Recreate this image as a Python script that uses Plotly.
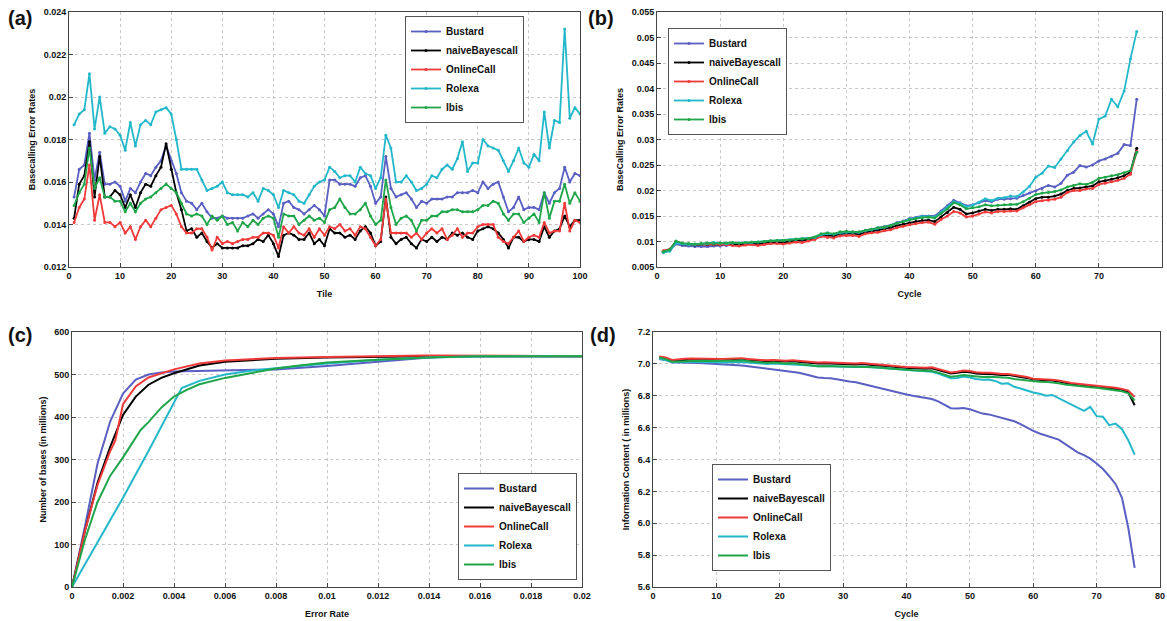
import plotly.graph_objects as go

# ---------------- data ----------------
series_names = ["Bustard", "naiveBayescall", "OnlineCall", "Rolexa", "Ibis"]
series_colors = ["#5a5fc2", "#000000", "#f03a3a", "#22b8c9", "#1fa64a"]

tiles = list(range(1, 101))
a_bustard = [0.0153, 0.0166, 0.0168, 0.0183, 0.0161, 0.0174, 0.0159, 0.0159, 0.0160, 0.0158,
             0.0151, 0.0157, 0.0155, 0.0160, 0.0164, 0.0163, 0.0167, 0.0170, 0.0177, 0.0170,
             0.0164, 0.0155, 0.0151, 0.0150, 0.0147, 0.0150, 0.0146, 0.0143, 0.0143, 0.0144,
             0.0143, 0.0143, 0.0143, 0.0143, 0.0144, 0.0145, 0.0143, 0.0145, 0.0147, 0.0145,
             0.0139, 0.0150, 0.0151, 0.0148, 0.0147, 0.0145, 0.0147, 0.0149, 0.0147, 0.0144,
             0.0161, 0.0161, 0.0159, 0.0159, 0.0159, 0.0158, 0.0162, 0.0163, 0.0158, 0.0150,
             0.0153, 0.0172, 0.0157, 0.0153, 0.0154, 0.0155, 0.0152, 0.0148, 0.0151, 0.0150,
             0.0152, 0.0152, 0.0152, 0.0153, 0.0153, 0.0155, 0.0155, 0.0155, 0.0156, 0.0155,
             0.0160, 0.0157, 0.0159, 0.0160, 0.0153, 0.0146, 0.0148, 0.0153, 0.0147, 0.0148,
             0.0148, 0.0147, 0.0155, 0.0150, 0.0155, 0.0157, 0.0167, 0.0160, 0.0164, 0.0163]
a_naive = [0.0143, 0.0159, 0.0163, 0.0179, 0.0153, 0.0172, 0.0153, 0.0153, 0.0156, 0.0154,
           0.0148, 0.0154, 0.0148, 0.0155, 0.0159, 0.0158, 0.0163, 0.0167, 0.0178, 0.0166,
           0.0155, 0.0147, 0.0137, 0.0138, 0.0134, 0.0136, 0.0132, 0.0129, 0.0131, 0.0129,
           0.0129, 0.0129, 0.0129, 0.0130, 0.0130, 0.0131, 0.0133, 0.0132, 0.0135, 0.0131,
           0.0125, 0.0135, 0.0136, 0.0135, 0.0133, 0.0133, 0.0136, 0.0131, 0.0133, 0.0130,
           0.0138, 0.0136, 0.0136, 0.0134, 0.0135, 0.0133, 0.0137, 0.0139, 0.0136, 0.0130,
           0.0132, 0.0153, 0.0134, 0.0131, 0.0133, 0.0134, 0.0131, 0.0129, 0.0133, 0.0132,
           0.0134, 0.0132, 0.0134, 0.0133, 0.0136, 0.0135, 0.0136, 0.0134, 0.0133, 0.0137,
           0.0138, 0.0139, 0.0138, 0.0136, 0.0133, 0.0129, 0.0134, 0.0134, 0.0132, 0.0133,
           0.0133, 0.0132, 0.0139, 0.0134, 0.0137, 0.0138, 0.0144, 0.0139, 0.0142, 0.0142]
a_online = [0.0141, 0.0148, 0.0152, 0.0168, 0.0142, 0.0154, 0.0141, 0.0141, 0.0139, 0.0141,
            0.0136, 0.0139, 0.0133, 0.0139, 0.0142, 0.0139, 0.0143, 0.0147, 0.0148, 0.0149,
            0.0145, 0.0139, 0.0136, 0.0136, 0.0138, 0.0138, 0.0134, 0.0128, 0.0134, 0.0131,
            0.0132, 0.0131, 0.0132, 0.0133, 0.0133, 0.0134, 0.0134, 0.0136, 0.0136, 0.0135,
            0.0129, 0.0139, 0.0136, 0.0139, 0.0136, 0.0135, 0.0138, 0.0134, 0.0138, 0.0135,
            0.0139, 0.0138, 0.0140, 0.0137, 0.0138, 0.0135, 0.0139, 0.0138, 0.0134, 0.0130,
            0.0133, 0.0152, 0.0136, 0.0136, 0.0136, 0.0136, 0.0134, 0.0136, 0.0133, 0.0136,
            0.0138, 0.0136, 0.0138, 0.0133, 0.0135, 0.0138, 0.0134, 0.0136, 0.0136, 0.0139,
            0.0140, 0.0140, 0.0140, 0.0134, 0.0132, 0.0131, 0.0134, 0.0137, 0.0132, 0.0134,
            0.0135, 0.0134, 0.0141, 0.0136, 0.0137, 0.0137, 0.0150, 0.0137, 0.0142, 0.0141]
a_rolexa = [0.0187, 0.0192, 0.0194, 0.0211, 0.0185, 0.0200, 0.0183, 0.0186, 0.0185, 0.0182,
            0.0175, 0.0188, 0.0177, 0.0187, 0.0189, 0.0187, 0.0193, 0.0194, 0.0195, 0.0192,
            0.0180, 0.0166, 0.0166, 0.0166, 0.0166, 0.0161, 0.0156, 0.0157, 0.0158, 0.0160,
            0.0155, 0.0154, 0.0154, 0.0154, 0.0153, 0.0155, 0.0151, 0.0157, 0.0156, 0.0154,
            0.0148, 0.0156, 0.0155, 0.0154, 0.0151, 0.0150, 0.0154, 0.0158, 0.0160, 0.0161,
            0.0167, 0.0165, 0.0162, 0.0163, 0.0163, 0.0160, 0.0167, 0.0164, 0.0163, 0.0157,
            0.0162, 0.0182, 0.0176, 0.0160, 0.0160, 0.0163, 0.0160, 0.0156, 0.0157, 0.0159,
            0.0163, 0.0162, 0.0166, 0.0168, 0.0166, 0.0171, 0.0179, 0.0165, 0.0169, 0.0169,
            0.0180, 0.0177, 0.0176, 0.0175, 0.0170, 0.0165, 0.0170, 0.0176, 0.0169, 0.0167,
            0.0173, 0.0170, 0.0193, 0.0176, 0.0189, 0.0188, 0.0232, 0.0190, 0.0195, 0.0192]
a_ibis = [0.0149, 0.0155, 0.0159, 0.0176, 0.0157, 0.0162, 0.0153, 0.0153, 0.0151, 0.0151,
          0.0146, 0.0150, 0.0146, 0.0150, 0.0152, 0.0153, 0.0155, 0.0157, 0.0159, 0.0157,
          0.0155, 0.0150, 0.0145, 0.0144, 0.0145, 0.0144, 0.0140, 0.0144, 0.0142, 0.0144,
          0.0140, 0.0141, 0.0137, 0.0141, 0.0139, 0.0142, 0.0140, 0.0143, 0.0144, 0.0143,
          0.0134, 0.0145, 0.0144, 0.0144, 0.0140, 0.0142, 0.0144, 0.0142, 0.0143, 0.0141,
          0.0147, 0.0148, 0.0152, 0.0148, 0.0145, 0.0145, 0.0147, 0.0150, 0.0144, 0.0140,
          0.0142, 0.0161, 0.0148, 0.0140, 0.0143, 0.0144, 0.0142, 0.0137, 0.0142, 0.0142,
          0.0144, 0.0144, 0.0146, 0.0146, 0.0147, 0.0147, 0.0146, 0.0146, 0.0146, 0.0147,
          0.0149, 0.0149, 0.0151, 0.0150, 0.0145, 0.0142, 0.0145, 0.0145, 0.0141, 0.0143,
          0.0145, 0.0141, 0.0155, 0.0143, 0.0151, 0.0151, 0.0159, 0.0150, 0.0155, 0.0151]

cycles = list(range(1, 77))
b_bustard = [0.0079, 0.0082, 0.0095, 0.0092, 0.0091, 0.0090, 0.0090, 0.0090, 0.0091, 0.0091,
             0.0092, 0.0093, 0.0094, 0.0095, 0.0096, 0.0097, 0.0098, 0.0100, 0.0100, 0.0101,
             0.0102, 0.0104, 0.0105, 0.0106, 0.0108, 0.0113, 0.0115, 0.0114, 0.0118, 0.0119,
             0.0119, 0.0118, 0.0122, 0.0124, 0.0127, 0.0129, 0.0132, 0.0137, 0.0140, 0.0145,
             0.0147, 0.0150, 0.0150, 0.0150, 0.0160, 0.0170, 0.0181, 0.0176, 0.0170, 0.0172,
             0.0176, 0.0180, 0.0178, 0.0183, 0.0183, 0.0184, 0.0185, 0.0190, 0.0195, 0.0199,
             0.0204, 0.0210, 0.0207, 0.0214, 0.0230, 0.0236, 0.0249, 0.0246, 0.0250, 0.0258,
             0.0262, 0.0267, 0.0273, 0.0290, 0.0288, 0.0379]
b_naive = [0.0081, 0.0083, 0.0100, 0.0095, 0.0094, 0.0093, 0.0094, 0.0094, 0.0095, 0.0095,
           0.0095, 0.0095, 0.0094, 0.0095, 0.0096, 0.0095, 0.0097, 0.0099, 0.0098, 0.0098,
           0.0100, 0.0102, 0.0102, 0.0104, 0.0106, 0.0112, 0.0112, 0.0111, 0.0115, 0.0116,
           0.0116, 0.0114, 0.0118, 0.0120, 0.0122, 0.0124, 0.0127, 0.0131, 0.0134, 0.0137,
           0.0139, 0.0141, 0.0142, 0.0139, 0.0148, 0.0157, 0.0167, 0.0163, 0.0154, 0.0156,
           0.0160, 0.0163, 0.0161, 0.0163, 0.0163, 0.0164, 0.0163, 0.0170, 0.0177, 0.0184,
           0.0187, 0.0187, 0.0189, 0.0193, 0.0200, 0.0204, 0.0205, 0.0207, 0.0209, 0.0217,
           0.0219, 0.0222, 0.0225, 0.0229, 0.0236, 0.0283]
b_online = [0.0082, 0.0085, 0.0099, 0.0096, 0.0095, 0.0094, 0.0095, 0.0095, 0.0095, 0.0094,
            0.0094, 0.0092, 0.0091, 0.0093, 0.0094, 0.0092, 0.0094, 0.0096, 0.0096, 0.0095,
            0.0097, 0.0099, 0.0098, 0.0101, 0.0104, 0.0110, 0.0108, 0.0107, 0.0111, 0.0112,
            0.0112, 0.0110, 0.0115, 0.0117, 0.0118, 0.0121, 0.0123, 0.0127, 0.0130, 0.0133,
            0.0135, 0.0137, 0.0138, 0.0134, 0.0143, 0.0150, 0.0159, 0.0156, 0.0148, 0.0150,
            0.0154, 0.0158, 0.0156, 0.0159, 0.0159, 0.0160, 0.0160, 0.0166, 0.0172, 0.0178,
            0.0180, 0.0181, 0.0183, 0.0187, 0.0196, 0.0200, 0.0200, 0.0203, 0.0204, 0.0212,
            0.0214, 0.0217, 0.0220, 0.0224, 0.0232, 0.0277]
b_rolexa = [0.0078, 0.0081, 0.0097, 0.0095, 0.0094, 0.0094, 0.0095, 0.0096, 0.0098, 0.0097,
            0.0096, 0.0097, 0.0097, 0.0098, 0.0098, 0.0099, 0.0100, 0.0101, 0.0101, 0.0102,
            0.0103, 0.0104, 0.0105, 0.0106, 0.0108, 0.0113, 0.0115, 0.0114, 0.0117, 0.0118,
            0.0118, 0.0118, 0.0121, 0.0123, 0.0126, 0.0128, 0.0131, 0.0136, 0.0139, 0.0144,
            0.0146, 0.0149, 0.0149, 0.0148, 0.0157, 0.0167, 0.0178, 0.0175, 0.0168, 0.0171,
            0.0177, 0.0184, 0.0180, 0.0185, 0.0186, 0.0189, 0.0188, 0.0197, 0.0208, 0.0226,
            0.0234, 0.0248, 0.0245, 0.0262, 0.0278, 0.0295, 0.0308, 0.0316, 0.0291, 0.0340,
            0.0346, 0.0379, 0.0364, 0.0395, 0.0458, 0.0512]
b_ibis = [0.0080, 0.0084, 0.0101, 0.0097, 0.0096, 0.0095, 0.0096, 0.0097, 0.0096, 0.0097,
          0.0097, 0.0098, 0.0097, 0.0098, 0.0099, 0.0099, 0.0100, 0.0102, 0.0102, 0.0102,
          0.0103, 0.0105, 0.0106, 0.0106, 0.0109, 0.0115, 0.0117, 0.0115, 0.0119, 0.0120,
          0.0119, 0.0119, 0.0122, 0.0124, 0.0127, 0.0128, 0.0131, 0.0136, 0.0139, 0.0143,
          0.0145, 0.0147, 0.0148, 0.0146, 0.0155, 0.0164, 0.0176, 0.0172, 0.0164, 0.0166,
          0.0168, 0.0172, 0.0170, 0.0171, 0.0172, 0.0173, 0.0173, 0.0178, 0.0185, 0.0192,
          0.0195, 0.0196, 0.0198, 0.0201, 0.0207, 0.0210, 0.0213, 0.0212, 0.0216, 0.0224,
          0.0226, 0.0229, 0.0231, 0.0235, 0.0239, 0.0275]

c_bustard_x = [0, 0.0005, 0.001, 0.0015, 0.002, 0.0025, 0.003, 0.0035, 0.004, 0.006, 0.008, 0.010, 0.012, 0.014, 0.015, 0.020]
c_bustard_y = [0, 140, 290, 390, 455, 488, 500, 505, 507, 509, 512, 520, 530, 540, 543, 543]
c_naive_x = [0, 0.0005, 0.001, 0.0015, 0.002, 0.0025, 0.003, 0.0035, 0.004, 0.005, 0.006, 0.008, 0.010, 0.012, 0.014, 0.020]
c_naive_y = [0, 130, 245, 330, 405, 448, 476, 492, 503, 521, 530, 537, 540, 542, 543, 543]
c_online_x = [0, 0.0005, 0.001, 0.0015, 0.0017, 0.002, 0.0025, 0.003, 0.004, 0.005, 0.006, 0.008, 0.010, 0.012, 0.0138, 0.020]
c_online_y = [0, 130, 240, 320, 345, 430, 472, 493, 512, 526, 533, 539, 541, 543, 545, 543]
c_rolexa_x = [0, 0.001, 0.002, 0.003, 0.0043, 0.005, 0.006, 0.007, 0.008, 0.010, 0.012, 0.014, 0.016, 0.020]
c_rolexa_y = [0, 105, 210, 320, 468, 485, 500, 509, 515, 526, 535, 540, 543, 543]
c_ibis_x = [0, 0.0005, 0.001, 0.0015, 0.002, 0.0025, 0.0027, 0.003, 0.0035, 0.004, 0.0045, 0.005, 0.006, 0.007, 0.008, 0.009, 0.010, 0.012, 0.014, 0.016, 0.020]
c_ibis_y = [0, 110, 200, 262, 305, 350, 370, 388, 422, 448, 464, 477, 492, 503, 514, 522, 528, 535, 540, 543, 543]

d_bustard = [7.030, 7.025, 7.010, 7.010, 7.008, 7.008, 7.006, 7.004, 7.002, 7.000,
             6.998, 6.995, 6.992, 6.990, 6.985, 6.980, 6.976, 6.972, 6.968, 6.963,
             6.956, 6.950, 6.944, 6.935, 6.927, 6.915, 6.912, 6.910, 6.903, 6.895,
             6.890, 6.885, 6.875, 6.865, 6.855, 6.845, 6.835, 6.825, 6.815, 6.808,
             6.800, 6.793, 6.787, 6.780, 6.765, 6.745, 6.722, 6.720, 6.723, 6.715,
             6.700, 6.688, 6.683, 6.672, 6.662, 6.652, 6.640, 6.622, 6.600, 6.580,
             6.563, 6.550, 6.540, 6.525, 6.498, 6.472, 6.445, 6.428, 6.405, 6.375,
             6.340, 6.295, 6.245, 6.160, 5.970, 5.720]
d_naive = [7.042, 7.036, 7.020, 7.024, 7.027, 7.028, 7.027, 7.028, 7.025, 7.025,
           7.025, 7.027, 7.028, 7.030, 7.025, 7.023, 7.020, 7.017, 7.020, 7.017,
           7.015, 7.017, 7.013, 7.010, 7.007, 7.002, 7.004, 7.002, 6.999, 6.997,
           6.999, 6.996, 6.999, 6.994, 6.992, 6.989, 6.984, 6.980, 6.977, 6.974,
           6.972, 6.970, 6.970, 6.972, 6.962, 6.952, 6.940, 6.944, 6.951, 6.948,
           6.940, 6.937, 6.938, 6.934, 6.930, 6.931, 6.926, 6.920, 6.912, 6.902,
           6.900, 6.900, 6.896, 6.890, 6.880, 6.874, 6.870, 6.866, 6.862, 6.858,
           6.852, 6.848, 6.843, 6.835, 6.822, 6.740]
d_online = [7.046, 7.040, 7.025, 7.030, 7.032, 7.033, 7.032, 7.033, 7.030, 7.030,
            7.030, 7.032, 7.033, 7.036, 7.030, 7.028, 7.025, 7.022, 7.025, 7.022,
            7.020, 7.022, 7.018, 7.015, 7.012, 7.008, 7.010, 7.008, 7.005, 7.003,
            7.005, 7.002, 7.005, 7.000, 6.998, 6.995, 6.990, 6.986, 6.983, 6.980,
            6.978, 6.976, 6.976, 6.978, 6.968, 6.958, 6.946, 6.950, 6.958, 6.955,
            6.947, 6.944, 6.945, 6.941, 6.936, 6.937, 6.932, 6.926, 6.918, 6.907,
            6.905, 6.905, 6.901, 6.895, 6.886, 6.880, 6.876, 6.872, 6.868, 6.864,
            6.858, 6.855, 6.850, 6.843, 6.832, 6.792]
d_rolexa = [7.030, 7.024, 7.010, 7.012, 7.012, 7.012, 7.011, 7.012, 7.010, 7.010,
            7.009, 7.010, 7.010, 7.012, 7.008, 7.005, 7.003, 7.000, 7.002, 7.000,
            6.998, 6.999, 6.995, 6.993, 6.990, 6.985, 6.987, 6.986, 6.984, 6.982,
            6.984, 6.981, 6.983, 6.980, 6.979, 6.976, 6.972, 6.968, 6.964, 6.960,
            6.958, 6.955, 6.955, 6.951, 6.940, 6.925, 6.910, 6.912, 6.920, 6.915,
            6.905, 6.900, 6.902, 6.893, 6.876, 6.878, 6.856, 6.845, 6.832, 6.820,
            6.812, 6.800, 6.805, 6.785, 6.760, 6.740, 6.720, 6.705, 6.730, 6.672,
            6.668, 6.615, 6.625, 6.590, 6.520, 6.430]
d_ibis = [7.040, 7.030, 7.013, 7.015, 7.018, 7.019, 7.018, 7.020, 7.018, 7.020,
          7.019, 7.020, 7.020, 7.022, 7.016, 7.013, 7.010, 7.005, 7.008, 7.005,
          7.003, 7.004, 7.000, 6.996, 6.992, 6.985, 6.987, 6.986, 6.985, 6.984,
          6.986, 6.982, 6.984, 6.980, 6.979, 6.976, 6.972, 6.968, 6.965, 6.962,
          6.960, 6.958, 6.958, 6.955, 6.945, 6.932, 6.920, 6.924, 6.930, 6.926,
          6.920, 6.918, 6.920, 6.917, 6.914, 6.913, 6.905, 6.900, 6.896, 6.890,
          6.888, 6.887, 6.885, 6.879, 6.870, 6.865, 6.860, 6.857, 6.853, 6.850,
          6.845, 6.842, 6.836, 6.828, 6.815, 6.770]

a_values = [a_bustard, a_naive, a_online, a_rolexa, a_ibis]
b_values = [b_bustard, b_naive, b_online, b_rolexa, b_ibis]
c_xvalues = [c_bustard_x, c_naive_x, c_online_x, c_rolexa_x, c_ibis_x]
c_yvalues = [c_bustard_y, c_naive_y, c_online_y, c_rolexa_y, c_ibis_y]
d_values = [d_bustard, d_naive, d_online, d_rolexa, d_ibis]

# ---------------- figure ----------------
W, H = 1167, 621
FONT = "Liberation Sans, Arial, sans-serif"
fig = go.Figure()

for i, name in enumerate(series_names):
    col = series_colors[i]
    fig.add_trace(go.Scatter(x=tiles, y=a_values[i], name=name, mode="lines+markers",
                             line=dict(color=col, width=1.8), marker=dict(color=col, size=3),
                             xaxis="x", yaxis="y", legend="legend"))
for i, name in enumerate(series_names):
    col = series_colors[i]
    fig.add_trace(go.Scatter(x=cycles, y=b_values[i], name=name, mode="lines+markers",
                             line=dict(color=col, width=1.8), marker=dict(color=col, size=3),
                             xaxis="x2", yaxis="y2", legend="legend2"))
for i, name in enumerate(series_names):
    col = series_colors[i]
    fig.add_trace(go.Scatter(x=c_xvalues[i], y=c_yvalues[i], name=name, mode="lines",
                             line=dict(color=col, width=2),
                             xaxis="x3", yaxis="y3", legend="legend3"))
for i, name in enumerate(series_names):
    col = series_colors[i]
    fig.add_trace(go.Scatter(x=cycles, y=d_values[i], name=name, mode="lines",
                             line=dict(color=col, width=2),
                             xaxis="x4", yaxis="y4", legend="legend4"))


def px_x(p):
    return p / W


def px_y(p):
    return 1 - p / H


tickfont = dict(family=FONT, size=9, color="#111", weight="bold")
titlefont = dict(family=FONT, size=9, color="#111", weight="bold")


def axis(domain, rng, dtick, title, anchor, standoff, fmt=None):
    d = dict(domain=domain, range=rng, dtick=dtick, tick0=rng[0], anchor=anchor,
             automargin=False,
             showgrid=True, gridcolor="#c8c8c8", griddash="dot", gridwidth=1,
             showline=True, linecolor="#444", linewidth=1, mirror=True,
             ticks="inside", ticklen=4, tickcolor="#444", zeroline=False,
             tickfont=tickfont, title=dict(text=title, font=titlefont, standoff=standoff))
    if fmt:
        d["tickformat"] = fmt
    return d


ax_a = [px_x(69), px_x(580)]
ax_b = [px_x(657), px_x(1162)]
ax_c = [px_x(72), px_x(582)]
ax_d = [px_x(653), px_x(1160)]
ay_top = [px_y(267), px_y(12)]
ay_bot = [px_y(587), px_y(332)]

legend_common = dict(bgcolor="white", bordercolor="#555", borderwidth=1,
                     font=dict(family=FONT, size=10, color="#111", weight="bold"),
                     tracegroupgap=0, itemwidth=30)

fig.update_layout(
    width=W, height=H, margin=dict(l=0, r=0, t=0, b=0, autoexpand=False),
    paper_bgcolor="white", plot_bgcolor="white",
    xaxis=axis(ax_a, [0, 100], 10, "Tile", "y", 10),
    yaxis=axis(ay_top, [0.012, 0.024], 0.002, "Basecalling Error Rates", "x", 6),
    xaxis2=axis(ax_b, [0, 80], 10, "Cycle", "y2", 10),
    yaxis2=axis(ay_top, [0.005, 0.055], 0.005, "BaseCalling Error Rates", "x2", 6),
    xaxis3=axis(ax_c, [0, 0.02], 0.002, "Error Rate", "y3", 10),
    yaxis3=axis(ay_bot, [0, 600], 100, "Number of bases (in millions)", "x3", 6),
    xaxis4=axis(ax_d, [0, 80], 10, "Cycle", "y4", 10),
    yaxis4=axis(ay_bot, [5.6, 7.2], 0.2, "Information Content ( in millions)", "x4", 6, ".1f"),
    legend=dict(x=px_x(524), y=px_y(16), xanchor="right", yanchor="top", **legend_common),
    legend2=dict(x=px_x(668), y=px_y(28), xanchor="left", yanchor="top", **legend_common),
    legend3=dict(x=px_x(577), y=px_y(580), xanchor="right", yanchor="bottom", **legend_common),
    legend4=dict(x=px_x(712), y=px_y(464), xanchor="left", yanchor="top", **legend_common),
)

labels = [("(a)", 6, 5), ("(b)", 586, 5), ("(c)", 6, 322), ("(d)", 588, 322)]
for txt, lx, ly in labels:
    fig.add_annotation(text=txt, x=px_x(lx), y=px_y(ly), xref="paper", yref="paper",
                       xanchor="left", yanchor="top", showarrow=False,
                       font=dict(family=FONT, size=20, color="#111", weight="bold"))

fig.write_html("out.html", config={"displayModeBar": False},
               post_script="document.body.style.margin='0';document.body.style.padding='0';"
                           "document.documentElement.style.overflow='hidden';")
